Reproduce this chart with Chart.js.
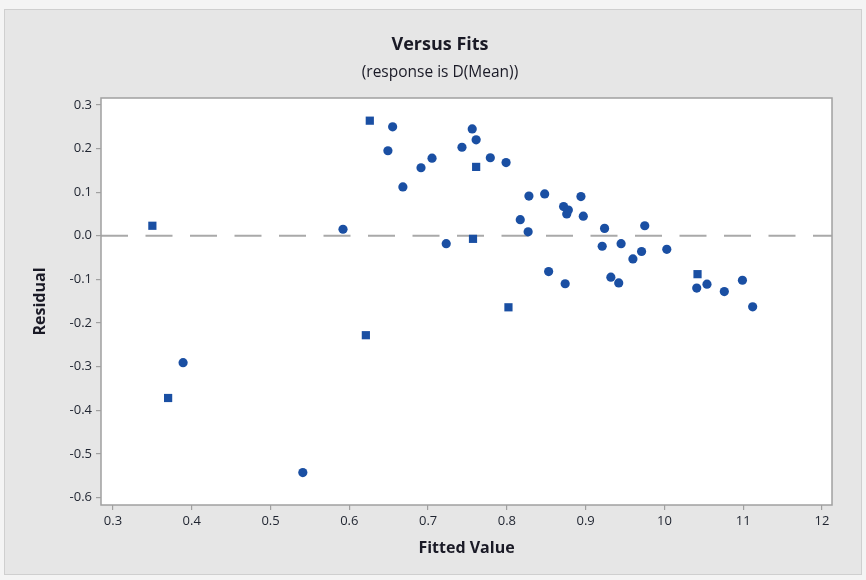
<!DOCTYPE html>
<html>
<head>
<meta charset="utf-8">
<script src="https://cdn.jsdelivr.net/npm/chart.js@4.4.1/dist/chart.umd.min.js"></script>
<style>
  html, body { margin: 0; padding: 0; background: #f2f2f2; }
  #wrap { width: 866px; height: 580px; position: relative; }
  canvas { display: block; }
</style>
</head>
<body>
<div id="wrap"><canvas id="c" width="866" height="580"></canvas></div>
<script>
// ---- data ----
const chartTitle = 'Versus Fits';
const chartSubtitle = '(response is D(Mean))';
const xAxisTitle = 'Fitted Value';
const yAxisTitle = 'Residual';

// points drawn with round markers
const circleFitted = [0.389, 0.541, 0.592, 0.649, 0.655, 0.668, 0.691, 0.705, 0.723, 0.743,
  0.756, 0.761, 0.779, 0.799, 0.817, 0.827, 0.828, 0.848, 0.853, 0.872,
  0.876, 0.878, 0.874, 0.894, 0.897, 0.921, 0.924, 0.932, 0.942, 0.945,
  0.960, 0.971, 0.975, 1.003, 1.041, 1.054, 1.076, 1.099, 1.112];
const circleResidual = [-0.291, -0.543, 0.015, 0.195, 0.250, 0.112, 0.156, 0.178, -0.018, 0.203,
  0.245, 0.220, 0.179, 0.168, 0.037, 0.009, 0.091, 0.096, -0.082, 0.067,
  0.050, 0.059, -0.110, 0.090, 0.045, -0.024, 0.017, -0.095, -0.108, -0.018,
  -0.053, -0.036, 0.023, -0.031, -0.120, -0.111, -0.128, -0.102, -0.163];

// points drawn with square markers
const squareFitted = [0.350, 0.370, 0.621, 0.626, 0.757, 0.761, 0.802, 1.042];
const squareResidual = [0.023, -0.372, -0.228, 0.264, -0.007, 0.158, -0.164, -0.088];

const xTickValues = [0.3, 0.4, 0.5, 0.6, 0.7, 0.8, 0.9, 1.0, 1.1, 1.2];
const xTickLabels = ['0.3', '0.4', '0.5', '0.6', '0.7', '0.8', '0.9', '10', '11', '12'];
const yTickValues = [0.3, 0.2, 0.1, 0.0, -0.1, -0.2, -0.3, -0.4, -0.5, -0.6];
const yTickLabels = ['0.3', '0.2', '0.1', '0.0', '-0.1', '-0.2', '-0.3', '-0.4', '-0.5', '-0.6'];
const referenceLine = 0.0;

// ---- build ----
const toPoints = (xs, ys) => xs.map((x, i) => ({ x: x, y: ys[i] }));
const FONT = '"Open Sans", sans-serif';
const MARK = '#1a4fa3';

const backgroundPlugin = {
  id: 'bg',
  beforeDraw(chart) {
    const ctx = chart.ctx, a = chart.chartArea;
    ctx.save();
    ctx.fillStyle = '#f4f4f4';
    ctx.fillRect(0, 0, chart.width, chart.height);
    ctx.fillStyle = '#e6e6e6';
    ctx.fillRect(4, 9, chart.width - 8, chart.height - 14);
    ctx.strokeStyle = '#cfcfcf';
    ctx.lineWidth = 1;
    ctx.strokeRect(4.5, 9.5, chart.width - 9, chart.height - 15);
    ctx.fillStyle = '#ffffff';
    ctx.fillRect(a.left, a.top, a.right - a.left, a.bottom - a.top);
    // titles
    ctx.fillStyle = '#1a1a26';
    ctx.textAlign = 'center';
    ctx.textBaseline = 'middle';
    ctx.font = 'bold 18px ' + FONT;
    ctx.fillText(chartTitle, 440, 45);
    ctx.font = '15.5px ' + FONT;
    ctx.fillText(chartSubtitle, 440, 73);
    ctx.restore();
  },
  beforeDatasetsDraw(chart) {
    const ctx = chart.ctx, a = chart.chartArea;
    const y = chart.scales.y.getPixelForValue(referenceLine);
    ctx.save();
    ctx.strokeStyle = '#a9a9a9';
    ctx.lineWidth = 2;
    ctx.setLineDash([27, 17.5]);
    ctx.beginPath();
    ctx.moveTo(a.left, y);
    ctx.lineTo(a.right, y);
    ctx.stroke();
    ctx.restore();
  },
  afterDatasetsDraw(chart) {
    const ctx = chart.ctx, a = chart.chartArea;
    ctx.save();
    ctx.strokeStyle = '#a0a0a0';
    ctx.lineWidth = 1.5;
    ctx.strokeRect(a.left, a.top, a.right - a.left, a.bottom - a.top);
    ctx.restore();
  }
};

new Chart(document.getElementById('c'), {
  type: 'scatter',
  data: {
    datasets: [
      {
        label: 'circles',
        data: toPoints(circleFitted, circleResidual),
        pointStyle: 'circle',
        pointRadius: 4.6,
        backgroundColor: MARK,
        borderColor: MARK,
        borderWidth: 0
      },
      {
        label: 'squares',
        data: toPoints(squareFitted, squareResidual),
        pointStyle: 'rect',
        pointRadius: 5.8,
        backgroundColor: MARK,
        borderColor: MARK,
        borderWidth: 0
      }
    ]
  },
  options: {
    responsive: false,
    animation: false,
    devicePixelRatio: 1,
    layout: { padding: { top: 98, right: 34, bottom: 0, left: 0 } },
    plugins: {
      legend: { display: false },
      tooltip: { enabled: false },
      title: { display: false }
    },
    scales: {
      x: {
        type: 'linear',
        min: 0.2848,
        max: 1.2127,
        afterBuildTicks(scale) { scale.ticks = xTickValues.map(v => ({ value: v })); },
        afterFit(scale) { scale.height = 75; },
        ticks: {
          autoSkip: false,
          maxRotation: 0,
          padding: 3,
          color: '#1f2430',
          font: { family: FONT, size: 13 },
          callback: (v, i) => xTickLabels[i]
        },
        grid: { drawOnChartArea: false, drawTicks: true, tickLength: 5, color: '#a0a0a0', lineWidth: 1.2 },
        border: { display: false },
        title: {
          display: true,
          text: xAxisTitle,
          color: '#1a1a26',
          font: { family: FONT, size: 16, weight: 'bold' },
          padding: { top: 0, bottom: 22 }
        }
      },
      y: {
        type: 'linear',
        min: -0.6174,
        max: 0.316,
        afterBuildTicks(scale) { scale.ticks = yTickValues.map(v => ({ value: v })); },
        afterFit(scale) { scale.width = 101; },
        ticks: {
          autoSkip: false,
          padding: 4,
          color: '#1f2430',
          font: { family: FONT, size: 13 },
          callback: (v, i) => yTickLabels[i]
        },
        grid: { drawOnChartArea: false, drawTicks: true, tickLength: 5, color: '#a0a0a0', lineWidth: 1.2 },
        border: { display: false },
        title: {
          display: true,
          text: yAxisTitle,
          color: '#1a1a26',
          font: { family: FONT, size: 16, weight: 'bold' },
          padding: { top: 31, bottom: 0 }
        }
      }
    }
  },
  plugins: [backgroundPlugin]
});
</script>
</body>
</html>
